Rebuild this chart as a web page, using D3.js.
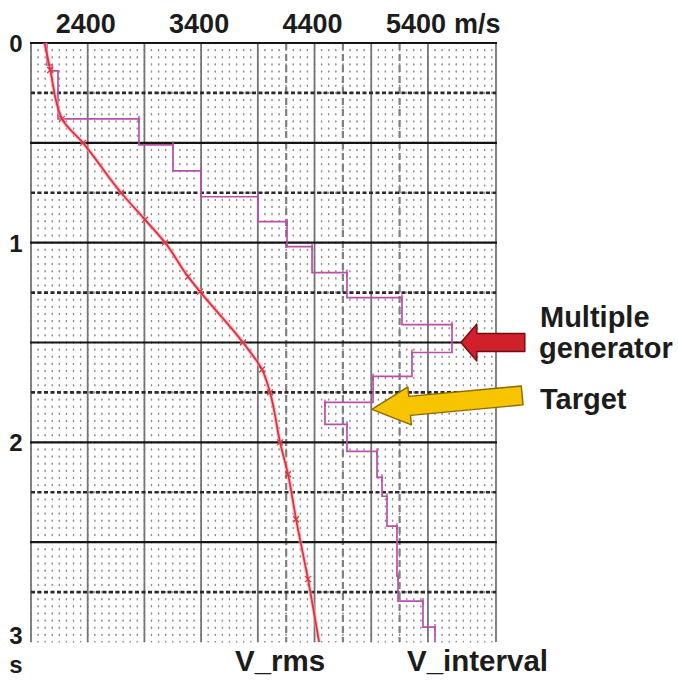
<!DOCTYPE html>
<html><head><meta charset="utf-8">
<script src="https://cdn.jsdelivr.net/npm/d3@7/dist/d3.min.js"></script>
<style>html,body{margin:0;padding:0;background:#fff}svg{display:block}</style>
</head><body>
<script>
// ---- data ----
const xTicks = [2400, 3400, 4400, 5400];
const xTickLabels = ["2400", "3400", "4400", "5400"];
const xUnit = "m/s";
const yTicks = [0, 1, 2, 3];
const yTickLabels = ["0", "1", "2", "3"];
const yUnit = "s";
// V_rms curve: time (s), velocity (m/s)
const rmsTime = [0, 0.135, 0.38, 0.5, 0.75, 0.885, 1.0, 1.17, 1.245, 1.5, 1.635, 1.75, 2.0, 2.16, 2.385, 2.685, 3.0];
const rmsVel  = [2020, 2070, 2173, 2358, 2694, 2905, 3082, 3285, 3390, 3769, 3937, 4007, 4096, 4166, 4237, 4342, 4440];
// V_interval layers: top time, velocity
const intTop = [0, 0.11, 0.14, 0.38, 0.51, 0.64, 0.77, 0.895, 1.02, 1.15, 1.275, 1.41, 1.55, 1.67, 1.80, 1.91, 2.045, 2.175, 2.27, 2.42, 2.67, 2.795, 2.925];
const intVel = [2041, 2085, 2138, 2852, 3152, 3399, 3902, 4157, 4378, 4686, 5171, 5612, 5259, 4916, 4492, 4686, 4951, 4995, 5039, 5127, 5136, 5356, 5462];
const intEnd = 3.0;
const seriesLabels = ["V_rms", "V_interval"];
const annoLabels = [["Multiple", "generator"], ["Target"]];
const annoVel = [5690, 4905];
const annoTime = [1.5, 1.835];

const W = 678, H = 684;
const svg = d3.select("body").append("svg").attr("width", W).attr("height", H);
const x = d3.scaleLinear().domain([1900, 6000]).range([31, 496]);
const y = d3.scaleLinear().domain([0, 3]).range([43, 642]);
const FONT = "'Liberation Sans', Arial, Helvetica, sans-serif";

const grid = svg.append("g");
// fine dotted grid
const fineV = d3.range(1900, 6000.1, 62.5);
const fineH = d3.range(0, 3.0001, 0.25 / 7);
const dy = y(0.25 / 7) - y(0), dx = x(1962.5) - x(1900);
grid.selectAll("line.fv").data(fineV).join("line")
  .attr("x1", d => x(d)).attr("x2", d => x(d)).attr("y1", y(0)).attr("y2", y(3))
  .attr("stroke", "#787878").attr("stroke-width", 1)
  .attr("stroke-dasharray", `2.2,${(dy - 2.2).toFixed(3)}`).attr("stroke-dashoffset", 1.1);
grid.selectAll("line.fh").data(fineH).join("line")
  .attr("x1", x(1900)).attr("x2", x(6000)).attr("y1", d => y(d)).attr("y2", d => y(d))
  .attr("stroke", "#969696").attr("stroke-width", 1)
  .attr("stroke-dasharray", `1.6,${(dx - 1.6).toFixed(3)}`).attr("stroke-dashoffset", 0.8);

// dashed vertical reference lines
grid.selectAll("line.dv").data([4150, 4650, 5150]).join("line")
  .attr("x1", d => x(d)).attr("x2", d => x(d)).attr("y1", y(0)).attr("y2", y(3))
  .attr("stroke", "#808080").attr("stroke-width", 2.2).attr("stroke-dasharray", "7,4");
// solid vertical lines
grid.selectAll("line.sv").data([1900, 2400, 2900, 3400, 3900, 4400, 4900, 5400, 6000]).join("line")
  .attr("x1", d => x(d)).attr("x2", d => x(d)).attr("y1", y(0)).attr("y2", y(3))
  .attr("stroke", "#747474").attr("stroke-width", 1.8);
// dashed horizontal lines
grid.selectAll("line.dh").data(d3.range(0.25, 3, 0.5)).join("line")
  .attr("x1", x(1900)).attr("x2", x(6000)).attr("y1", d => y(d)).attr("y2", d => y(d))
  .attr("stroke", "#2a2a2a").attr("stroke-width", 2.6).attr("stroke-dasharray", "4,2.5");
// solid horizontal lines
grid.selectAll("line.sh").data(d3.range(0, 2.51, 0.5)).join("line")
  .attr("x1", x(1900) - 1).attr("x2", x(6000) + 1).attr("y1", d => y(d)).attr("y2", d => y(d))
  .attr("stroke", "#151515").attr("stroke-width", 2.2);

// V_interval step line
const steps = [];
intTop.forEach((t, i) => {
  const tb = i < intTop.length - 1 ? intTop[i + 1] : intEnd;
  steps.push([intVel[i], t]);
  steps.push([intVel[i], tb]);
});
const line = d3.line().x(d => x(d[0])).y(d => y(d[1]));
svg.append("path").datum(steps).attr("d", line)
  .attr("fill", "none").attr("stroke", "#bb4ea6").attr("stroke-width", 1.7);
// small ticks on interval layers
svg.selectAll("path.itk").data(intTop.slice(3)).join("path")
  .attr("d", (t, i) => { const v = intVel[i + 3]; const px = x(v), py = y(t); return `M${px},${py - 3}L${px},${py + 4}`; })
  .attr("stroke", "#bb4ea6").attr("stroke-width", 1.4);

// V_rms curve
const rms = rmsTime.map((t, i) => [rmsVel[i], t]);
const rmsLine = d3.line().x(d => x(d[0])).y(d => y(d[1])).curve(d3.curveMonotoneY);
svg.append("path").datum(rms).attr("d", rmsLine)
  .attr("fill", "none").attr("stroke", "#f2a0a6").attr("stroke-width", 4).attr("opacity", 0.6);
svg.append("path").datum(rms).attr("d", rmsLine)
  .attr("fill", "none").attr("stroke", "#e0323e").attr("stroke-width", 1.8);
svg.selectAll("path.rtk").data(rms.slice(1, -1)).join("path")
  .attr("d", d => { const px = x(d[0]), py = y(d[1]); return `M${px - 3},${py - 3}L${px + 3},${py + 3}M${px + 3},${py - 3}L${px - 3},${py + 3}`; })
  .attr("stroke", "#e0323e").attr("stroke-width", 1.2);

// axis labels
const tl = svg.append("g").attr("font-family", FONT).attr("font-weight", "bold").attr("fill", "#1c1c1c");
tl.selectAll("text.xt").data(xTicks).join("text")
  .attr("x", (d, i) => x(d) - (i === xTicks.length - 1 ? 12 : 2)).attr("y", 33)
  .attr("text-anchor", "middle").attr("font-size", 27)
  .text((d, i) => xTickLabels[i]);
tl.append("text").attr("x", x(5400) + 26).attr("y", 33).attr("font-size", 27).text(xUnit);
tl.selectAll("text.yt").data(yTicks).join("text")
  .attr("x", 16).attr("y", (d, i) => y(d) + (i === yTicks.length - 1 ? 2 : 9))
  .attr("text-anchor", "middle").attr("font-size", 24)
  .text((d, i) => yTickLabels[i]);
tl.append("text").attr("x", 16).attr("y", 673).attr("text-anchor", "middle").attr("font-size", 24).text(yUnit);
tl.append("text").attr("x", 235).attr("y", 671).attr("font-size", 29.5).text(seriesLabels[0]);
tl.append("text").attr("x", 407).attr("y", 671).attr("font-size", 29.5).text(seriesLabels[1]);

// annotations
function arrowPath(len, head, headHalf, shaftHalf) {
  return `M0,0L${head},${-headHalf}L${head},${-shaftHalf}L${len},${-shaftHalf}L${len},${shaftHalf}L${head},${shaftHalf}L${head},${headHalf}Z`;
}
svg.append("path")
  .attr("transform", `translate(${x(annoVel[0])},${y(annoTime[0])})`)
  .attr("d", arrowPath(64, 16, 18.5, 9))
  .attr("fill", "#d0202b").attr("stroke", "#6e0d12").attr("stroke-width", 1.4).attr("stroke-linejoin", "round");
svg.append("path")
  .attr("transform", `translate(${x(annoVel[1])},${y(annoTime[1])}) rotate(-5.3)`)
  .attr("d", arrowPath(151, 38, 19, 9.5))
  .attr("fill", "#f6c400").attr("stroke", "#8a6800").attr("stroke-width", 1.4).attr("stroke-linejoin", "round");
const at = svg.append("g").attr("font-family", FONT).attr("font-weight", "bold").attr("fill", "#1c1c1c").attr("font-size", 29);
at.append("text").attr("x", 540).attr("y", 327).text(annoLabels[0][0]);
at.append("text").attr("x", 539).attr("y", 358).text(annoLabels[0][1]);
at.append("text").attr("x", 540).attr("y", 409).text(annoLabels[1][0]);
</script>
</body></html>
